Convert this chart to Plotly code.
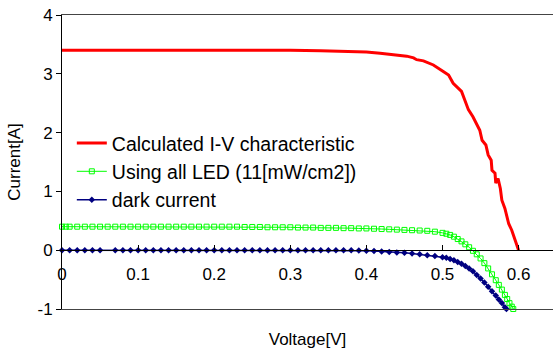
import plotly.graph_objects as go

# ---- data ----
calc_v = [0.000, 0.050, 0.100, 0.150, 0.200, 0.247, 0.300, 0.340, 0.378, 0.400, 0.418, 0.431, 0.444, 0.453,
          0.462, 0.466, 0.475, 0.488, 0.501, 0.508, 0.514, 0.521, 0.525, 0.530, 0.534, 0.540, 0.549,
          0.552, 0.557, 0.560, 0.564, 0.565, 0.569, 0.570, 0.573, 0.576, 0.578, 0.582, 0.587, 0.591,
          0.595, 0.600]
calc_i = [3.40, 3.40, 3.40, 3.40, 3.40, 3.41, 3.40, 3.39, 3.38, 3.37, 3.35, 3.33, 3.32, 3.30,
          3.27, 3.24, 3.22, 3.15, 3.04, 2.98, 2.84, 2.75, 2.70, 2.53, 2.39, 2.27, 2.04,
          1.87, 1.79, 1.62, 1.53, 1.36, 1.31, 1.14, 1.22, 1.05, 0.85, 0.71, 0.45, 0.34,
          0.20, 0.00]

led_v = [0.000, 0.005, 0.01, 0.02, 0.03, 0.04, 0.05, 0.06, 0.07, 0.08, 0.09, 0.10, 0.11, 0.12,
         0.13, 0.14, 0.15, 0.16, 0.17, 0.18, 0.19, 0.20, 0.21, 0.22, 0.23, 0.24, 0.25, 0.26,
         0.27, 0.28, 0.29, 0.30, 0.31, 0.32, 0.33, 0.34, 0.35, 0.36, 0.37, 0.38, 0.39, 0.40,
         0.41, 0.42, 0.43, 0.44, 0.45, 0.46, 0.47, 0.48, 0.49, 0.50, 0.505, 0.51, 0.515, 0.52,
         0.525, 0.53, 0.535, 0.54, 0.545, 0.55, 0.555, 0.56, 0.565, 0.57, 0.574, 0.578, 0.582,
         0.585, 0.588, 0.591, 0.593]
led_i = [0.40, 0.40, 0.40, 0.40, 0.40, 0.40, 0.40, 0.40, 0.40, 0.40, 0.40, 0.40, 0.40, 0.40,
         0.40, 0.40, 0.40, 0.40, 0.40, 0.40, 0.40, 0.40, 0.40, 0.40, 0.40, 0.395, 0.395, 0.395,
         0.39, 0.39, 0.39, 0.39, 0.385, 0.385, 0.385, 0.38, 0.38, 0.38, 0.375, 0.375, 0.37, 0.37,
         0.365, 0.36, 0.355, 0.35, 0.345, 0.34, 0.335, 0.33, 0.315, 0.295, 0.28, 0.26, 0.23, 0.19,
         0.15, 0.10, 0.05, -0.01, -0.07, -0.14, -0.22, -0.31, -0.41, -0.51, -0.59, -0.67, -0.76,
         -0.83, -0.90, -0.96, -1.00]

dark_v = [0.000, 0.01, 0.02, 0.03, 0.04, 0.05, 0.07, 0.08, 0.09, 0.10, 0.11, 0.12, 0.13, 0.14,
          0.15, 0.16, 0.17, 0.18, 0.19, 0.20, 0.21, 0.22, 0.23, 0.24, 0.25, 0.26, 0.27, 0.28,
          0.29, 0.30, 0.31, 0.32, 0.33, 0.34, 0.35, 0.36, 0.37, 0.38, 0.39, 0.40, 0.41, 0.42,
          0.43, 0.44, 0.45, 0.46, 0.47, 0.48, 0.49, 0.50, 0.505, 0.51, 0.515, 0.52, 0.525, 0.53,
          0.535, 0.54, 0.545, 0.55, 0.555, 0.56, 0.565, 0.57, 0.574, 0.578, 0.582, 0.584]
dark_i = [0.0, 0.0, 0.0, 0.0, 0.0, 0.0, 0.0, 0.0, 0.0, 0.0, 0.0, 0.0, 0.0, 0.0,
          0.0, 0.0, 0.0, 0.0, 0.0, 0.0, 0.0, 0.0, 0.0, 0.0, 0.0, 0.0, 0.0, 0.0,
          0.0, 0.0, 0.0, 0.0, 0.0, 0.0, 0.0, 0.0, 0.0, 0.0, -0.005, -0.01, -0.015, -0.02,
          -0.03, -0.04, -0.045, -0.055, -0.07, -0.085, -0.10, -0.12, -0.13, -0.15, -0.17, -0.20, -0.23, -0.27,
          -0.31, -0.36, -0.42, -0.48, -0.55, -0.62, -0.70, -0.77, -0.84, -0.90, -0.97, -1.00]

x_tickvals = [0, 0.1, 0.2, 0.3, 0.4, 0.5, 0.6]
x_ticktext = ["0", "0.1", "0.2", "0.3", "0.4", "0.5", "0.6"]
y_tickvals = [-1, 0, 1, 2, 3, 4]
y_ticktext = ["-1", "0", "1", "2", "3", "4"]

FONT = "Liberation Sans, Arial, sans-serif"

fig = go.Figure()
fig.add_trace(go.Scatter(x=calc_v, y=calc_i, mode="lines", name="Calculated I-V characteristic",
                         line=dict(color="#FF0000", width=3), cliponaxis=False))
fig.add_trace(go.Scatter(x=led_v, y=led_i, mode="lines+markers", name="Using all LED (11[mW/cm2])",
                         line=dict(color="#00FF00", width=1),
                         marker=dict(symbol="square-open", size=5, color="#00FF00", line=dict(width=1)),
                         cliponaxis=False))
fig.add_trace(go.Scatter(x=dark_v, y=dark_i, mode="lines+markers", name="dark current",
                         line=dict(color="#000080", width=1.5),
                         marker=dict(symbol="diamond", size=5, color="#000080"),
                         cliponaxis=False))

fig.update_layout(
    width=553, height=349,
    margin=dict(l=62, r=0, t=15, b=40, autoexpand=False),
    paper_bgcolor="white", plot_bgcolor="white",
    font=dict(family=FONT, size=17, color="black"),
    showlegend=True,
    legend=dict(x=0.02, y=0.63, xanchor="left", yanchor="top",
                font=dict(size=19.5, family=FONT, color="black"),
                bgcolor="rgba(0,0,0,0)", itemwidth=30),
    xaxis=dict(range=[0, 0.6452], anchor="y", showline=True, mirror=True, linecolor="#444444",
               linewidth=1, ticks="", showticklabels=False, showgrid=False, zeroline=False,
               automargin=False,
               title=dict(text="Voltage[V]", font=dict(size=17), standoff=24)),
    xaxis2=dict(overlaying="x", matches="x", anchor="free", position=0.2, side="bottom",
                showline=True, linecolor="black", linewidth=1, ticks="inside", ticklen=5,
                tickcolor="black", tickvals=x_tickvals, ticktext=x_ticktext, automargin=False,
                tickfont=dict(size=17), showgrid=False, zeroline=False, ticklabelstandoff=8,
                ticklabeloverflow="allow"),
    yaxis=dict(range=[-1, 4], showline=True, linecolor="black", linewidth=1, ticks="outside",
               ticklen=5, tickcolor="black", tickvals=y_tickvals, ticktext=y_ticktext,
               showgrid=False, zeroline=False, tickfont=dict(size=17), automargin=False,
               ticklabeloverflow="allow",
               title=dict(text="Current[A]", font=dict(size=17), standoff=12)),
)
# invisible trace to attach the zero-crossing axis
fig.add_trace(go.Scatter(x=[0], y=[0], xaxis="x2", mode="markers", marker=dict(opacity=0),
                         showlegend=False, hoverinfo="skip"))

fig.write_html("out.html", config={"displayModeBar": False},
               post_script="document.body.style.margin='0';")
